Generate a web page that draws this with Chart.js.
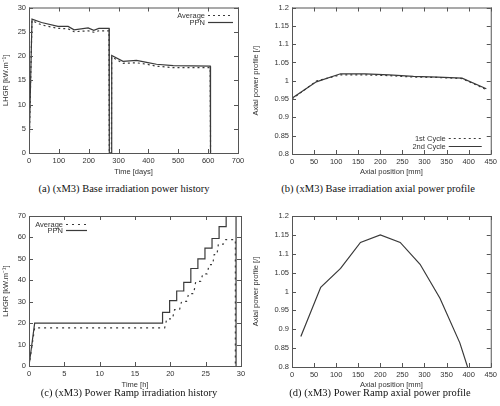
<!DOCTYPE html>
<html>
<head>
<meta charset="utf-8">
<script src="https://cdn.jsdelivr.net/npm/chart.js@4"></script>
<style>
  body { margin: 0; background: #fff; }
  #page { position: relative; width: 500px; height: 406px; overflow: hidden; }
  .box { position: absolute; }
  .caption {
    position: absolute; font-family: 'Liberation Serif', 'Times New Roman', serif;
    font-size: 10.5px; color: #111; white-space: nowrap; transform: translate(-50%, -50%);
  }
</style>
</head>
<body>
<div id="page">
  <div class="box" style="left:0;top:0;"><canvas id="chartA" width="250" height="177"></canvas></div>
  <div class="box" style="left:250px;top:0;"><canvas id="chartB" width="250" height="177"></canvas></div>
  <div class="box" style="left:0;top:200px;"><canvas id="chartC" width="250" height="190"></canvas></div>
  <div class="box" style="left:250px;top:200px;"><canvas id="chartD" width="250" height="190"></canvas></div>
  <div class="caption" style="left:124px;top:188px;">(a) (xM3) Base irradiation power history</div>
  <div class="caption" style="left:378px;top:188px;">(b) (xM3) Base irradiation axial power profile</div>
  <div class="caption" style="left:129px;top:392px;">(c) (xM3) Power Ramp irradiation history</div>
  <div class="caption" style="left:380px;top:392px;">(d) (xM3) Power Ramp axial power profile</div>
</div>
<script>
// (a) base irradiation power history
const baseTime = [0, 10, 42, 97, 131, 151, 198, 217, 234, 268, 269, 276, 277, 315, 360, 394, 427, 483, 607, 608];
const basePPN = [0, 27.6, 26.9, 26.1, 26.1, 25.4, 25.8, 25.3, 25.7, 25.7, 0, 0, 20.1, 18.9, 19.1, 18.7, 18.3, 18.0, 17.9, 0];
const baseAverage = [0, 27.3, 26.4, 25.7, 25.6, 25.0, 25.2, 24.9, 25.2, 25.2, 0, 0, 19.8, 18.5, 18.6, 18.3, 17.9, 17.6, 17.6, 0];

// (b) base irradiation axial profile
const baseAxialPos = [0, 55, 110, 165, 220, 275, 330, 385, 440];
const cycle1Profile = [0.950, 0.999, 1.016, 1.016, 1.014, 1.010, 1.009, 1.006, 0.976];
const cycle2Profile = [0.952, 0.997, 1.019, 1.019, 1.016, 1.012, 1.010, 1.007, 0.978];

// (c) power ramp history
const rampTimePPN = [0, 0.8, 18.9, 18.9, 19.9, 19.9, 20.9, 20.9, 21.9, 21.9, 22.9, 22.9, 23.9, 23.9, 24.9, 24.9, 25.9, 25.9, 26.9, 26.9, 27.9, 27.9, 29.3, 29.3];
const rampPPN = [0, 20, 20, 25, 25, 30.5, 30.5, 35, 35, 39, 39, 45.5, 45.5, 50, 50, 55, 55, 59.5, 59.5, 65, 65, 75, 75, 0];
const rampTimeAvg = [0, 0.8, 19.2, 19.5, 20.3, 20.6, 21.3, 21.6, 22.3, 22.6, 23.3, 23.6, 24.3, 24.6, 25.2, 25.5, 26.0, 26.2, 26.6, 26.8, 27.5, 27.8, 29.2, 29.2];
const rampAverage = [0, 17.8, 17.8, 22, 22, 26.3, 26.3, 30.2, 30.2, 33.8, 33.8, 39.5, 39.5, 43, 43, 47.3, 47.3, 52, 52, 56.9, 56.9, 59, 59, 0];

// (d) power ramp axial profile
const rampAxialPos = [20, 65, 110, 155, 200, 245, 290, 335, 380, 425];
const rampProfile = [0.881, 1.011, 1.061, 1.130, 1.150, 1.130, 1.072, 0.982, 0.864, 0.70];

const ink = '#333';
const lineCol = '#3a3a3a';
const tickFont = { family: "'Liberation Sans', Arial, sans-serif", size: 7.5 };

function pts(xs, ys) {
    return xs.map((x, i) => ({ x: x, y: ys[i] }));
}

// gnuplot style frame with inward ticks on all four sides
const framePlugin = {
    id: 'frame',
    afterDatasetsDraw(chart) {
        const ctx = chart.ctx;
        const a = chart.chartArea;
        const xs = chart.scales.x, ys = chart.scales.y;
        ctx.save();
        ctx.strokeStyle = '#555';
        ctx.lineWidth = 1;
        ctx.strokeRect(a.left + 0.5, a.top + 0.5, a.right - a.left, a.bottom - a.top);
        ctx.beginPath();
        xs.ticks.forEach((t, i) => {
            const p = Math.round(xs.getPixelForTick(i)) + 0.5;
            ctx.moveTo(p, a.bottom); ctx.lineTo(p, a.bottom - 4);
            ctx.moveTo(p, a.top); ctx.lineTo(p, a.top + 4);
        });
        ys.ticks.forEach((t, i) => {
            const p = Math.round(ys.getPixelForTick(i)) + 0.5;
            ctx.moveTo(a.left, p); ctx.lineTo(a.left + 4, p);
            ctx.moveTo(a.right, p); ctx.lineTo(a.right - 4, p);
        });
        ctx.stroke();
        ctx.restore();
    }
};

// key drawn like gnuplot: label right-aligned, line sample on its right
const keyPlugin = {
    id: 'gnuKey',
    afterDraw(chart, args, opts) {
        if (!opts || !opts.items) return;
        const ctx = chart.ctx;
        const a = chart.chartArea;
        const x0 = opts.fromRight ? a.right - opts.dx - opts.len : a.left + opts.dx;
        const y0 = opts.fromBottom ? a.bottom - opts.dy : a.top + opts.dy;
        ctx.save();
        ctx.font = tickFont.size + 'px ' + tickFont.family;
        ctx.fillStyle = ink;
        ctx.textAlign = 'right';
        ctx.textBaseline = 'middle';
        opts.items.forEach((it, i) => {
            const y = Math.round(y0 + i * opts.gap) + 0.5;
            ctx.fillText(it.label, x0 - 3, y);
            ctx.strokeStyle = lineCol;
            ctx.lineWidth = 1.2;
            ctx.setLineDash(it.dash || []);
            ctx.beginPath();
            ctx.moveTo(x0, y); ctx.lineTo(x0 + opts.len, y);
            ctx.stroke();
        });
        ctx.restore();
    }
};

function axis(min, max, step, title, size, fmt) {
    return {
        type: 'linear', min: min, max: max,
        grid: { display: false, drawTicks: false }, border: { display: false },
        ticks: { stepSize: step, font: tickFont, color: ink, padding: 3, autoSkip: false, maxRotation: 0,
                 callback: fmt || (v => String(v)) },
        title: { display: true, text: title, font: tickFont, color: ink, padding: { top: 1, bottom: 1 } },
        afterFit: s => { if (s.isHorizontal()) s.height = size; else s.width = size; }
    };
}

function lineSet(data, dash) {
    return {
        data: data, borderColor: lineCol, borderWidth: 1.2, borderDash: dash || [],
        pointRadius: 0, fill: false, tension: 0
    };
}

function makeChart(id, datasets, xAxis, yAxis, pad, key) {
    return new Chart(document.getElementById(id), {
        type: 'line',
        data: { datasets: datasets },
        options: {
            responsive: false, animation: false,
            layout: { padding: pad },
            scales: { x: xAxis, y: yAxis },
            plugins: { legend: { display: false }, tooltip: { enabled: false }, gnuKey: key || {} }
        },
        plugins: [framePlugin, keyPlugin]
    });
}

const fmt2 = v => String(+v.toFixed(2));

makeChart('chartA',
    [lineSet(pts(baseTime, baseAverage), [2, 3]), lineSet(pts(baseTime, basePPN))],
    axis(0, 700, 100, 'Time [days]', 24),
    axis(0, 30, 5, 'LHGR [kW.m\u207B\u00B9]', 29),
    { top: 3, right: 12, left: 0, bottom: 0 },
    { items: [{ label: 'Average', dash: [2, 3] }, { label: 'PPN' }], fromRight: true, dx: 5, dy: 7, gap: 7, len: 25 });

makeChart('chartB',
    [lineSet(pts(baseAxialPos, cycle1Profile), [2, 3]), lineSet(pts(baseAxialPos, cycle2Profile))],
    axis(0, 450, 50, 'Axial position [mm]', 23),
    axis(0.8, 1.2, 0.05, 'Axial power profile [/]', 42, fmt2),
    { top: 3, right: 6, left: 0, bottom: 0 },
    { items: [{ label: '1st Cycle', dash: [2, 3] }, { label: '2nd Cycle' }], fromBottom: true, fromRight: true, dx: 9, dy: 16, gap: 8, len: 33 });

makeChart('chartC',
    [lineSet(pts(rampTimeAvg, rampAverage), [2, 4]), lineSet(pts(rampTimePPN, rampPPN))],
    axis(0, 30, 5, 'Time [h]', 24),
    axis(0, 70, 10, 'LHGR [kW.m\u207B\u00B9]', 29),
    { top: 16, right: 9, left: 0, bottom: 0 },
    { items: [{ label: 'Average', dash: [2, 4] }, { label: 'PPN' }], dx: 37, dy: 8, gap: 6, len: 21 });

makeChart('chartD',
    [lineSet(pts(rampAxialPos, rampProfile))],
    axis(0, 450, 50, 'Axial position [mm]', 23),
    axis(0.8, 1.2, 0.05, 'Axial power profile [/]', 42, fmt2),
    { top: 16, right: 8, left: 0, bottom: 0 });
</script>
</body>
</html>
